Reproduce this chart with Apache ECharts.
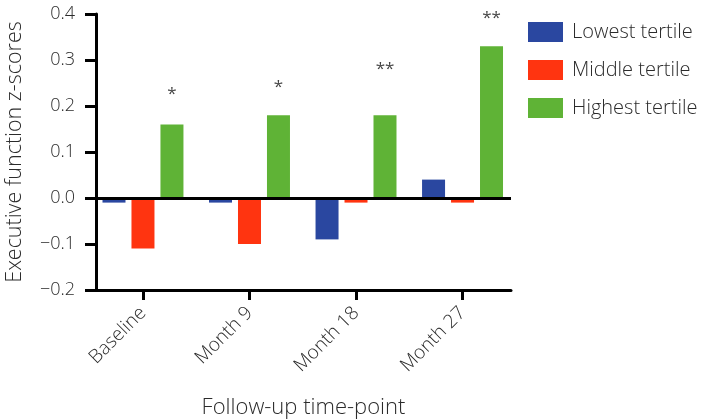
<!DOCTYPE html>
<html>
<head>
<meta charset="utf-8">
<script src="https://cdn.jsdelivr.net/npm/echarts@6/dist/echarts.min.js"></script>
<style>
  html, body { margin: 0; padding: 0; background: #fff; }
  #chart { width: 709px; height: 420px; }
</style>
</head>
<body>
<div id="chart"></div>
<script>
// Data
const timePoints = ['Baseline', 'Month 9', 'Month 18', 'Month 27'];
const lowestTertile = [-0.01, -0.01, -0.09, 0.04];
const middleTertile = [-0.11, -0.10, -0.01, -0.01];
const highestTertile = [0.16, 0.18, 0.18, 0.33];
// significance marks above the highest tertile bars, and the height they sit at
const sigMarks = ['*', '*', '**', '**'];
const sigHeights = [0.225, 0.24, 0.28, 0.39];

const FONT = '"Open Sans", sans-serif';
const WEIGHT = 300;
const TEXT = '#2b2b2b';

const chart = echarts.init(document.getElementById('chart'), null, { renderer: 'canvas' });

const toPairs = (arr) => arr.map((v, i) => [i, v]);

const barSeries = (name, values, color) => ({
  name: name,
  type: 'bar',
  data: toPairs(values),
  barWidth: 23,
  barGap: '26%',
  itemStyle: { color: color },
  z: 2
});

const option = {
  animation: false,
  backgroundColor: '#fff',
  textStyle: { fontFamily: FONT, fontWeight: WEIGHT, color: TEXT },
  grid: {
    left: 96,
    right: 198,
    top: 14,
    bottom: 130,
    containLabel: false,
    outerBoundsMode: 'none'
  },
  legend: {
    data: ['Lowest tertile', 'Middle tertile', 'Highest tertile'],
    orient: 'vertical',
    left: 528,
    top: 22,
    padding: 0,
    itemWidth: 35,
    itemHeight: 20,
    itemGap: 18,
    icon: 'rect',
    textStyle: { fontFamily: FONT, fontWeight: WEIGHT, fontSize: 20, color: TEXT, padding: [0, 0, 0, 4] }
  },
  xAxis: {
    type: 'value',
    min: -0.441,
    max: 3.455,
    name: 'Follow-up time-point',
    nameLocation: 'middle',
    nameGap: 107,
    nameTextStyle: { fontFamily: FONT, fontWeight: WEIGHT, fontSize: 22, color: TEXT },
    splitLine: { show: false },
    axisLine: { onZero: false, lineStyle: { color: '#000', width: 3 } },
    axisTick: {
      customValues: [0, 1, 2, 3],
      length: 10,
      lineStyle: { color: '#000', width: 3 }
    },
    axisLabel: {
      customValues: [0, 1, 2, 3],
      rotate: 45,
      margin: 20,
      fontFamily: FONT,
      fontWeight: WEIGHT,
      fontSize: 19,
      color: TEXT,
      formatter: (v) => timePoints[Math.round(v)]
    }
  },
  yAxis: {
    type: 'value',
    min: -0.2,
    max: 0.4,
    interval: 0.1,
    name: 'Executive function z-scores',
    nameLocation: 'middle',
    nameGap: 70,
    nameTextStyle: { fontFamily: FONT, fontWeight: WEIGHT, fontSize: 21.5, color: TEXT },
    splitLine: { show: false },
    axisLine: { show: true, onZero: false, lineStyle: { color: '#000', width: 3 } },
    axisTick: { length: 11, lineStyle: { color: '#000', width: 3 } },
    axisLabel: {
      margin: 21,
      fontFamily: FONT,
      fontWeight: WEIGHT,
      fontSize: 18,
      color: TEXT,
      formatter: (v) => v.toFixed(1).replace('-', '\u2212')
    }
  },
  series: [
    barSeries('Lowest tertile', lowestTertile, '#2a47a0'),
    barSeries('Middle tertile', middleTertile, '#ff3410'),
    Object.assign(barSeries('Highest tertile', highestTertile, '#5fb336'), {
      markLine: {
        silent: true,
        symbol: 'none',
        label: { show: false },
        lineStyle: { color: '#000', width: 3, type: 'solid' },
        data: [{ yAxis: 0 }]
      }
    }),
    {
      name: 'significance',
      type: 'scatter',
      symbolSize: 0,
      // place each mark over the highest tertile bar (third bar in the group)
      data: sigHeights.map((v, i) => ({ value: [i, v], mark: sigMarks[i] })),
      label: {
        show: true,
        position: 'inside',
        offset: [29, 0],
        fontFamily: FONT,
        fontWeight: 'normal',
        fontSize: 17,
        color: '#111',
        formatter: (p) => p.data.mark
      },
      z: 3
    }
  ]
};

chart.setOption(option);
</script>
</body>
</html>
